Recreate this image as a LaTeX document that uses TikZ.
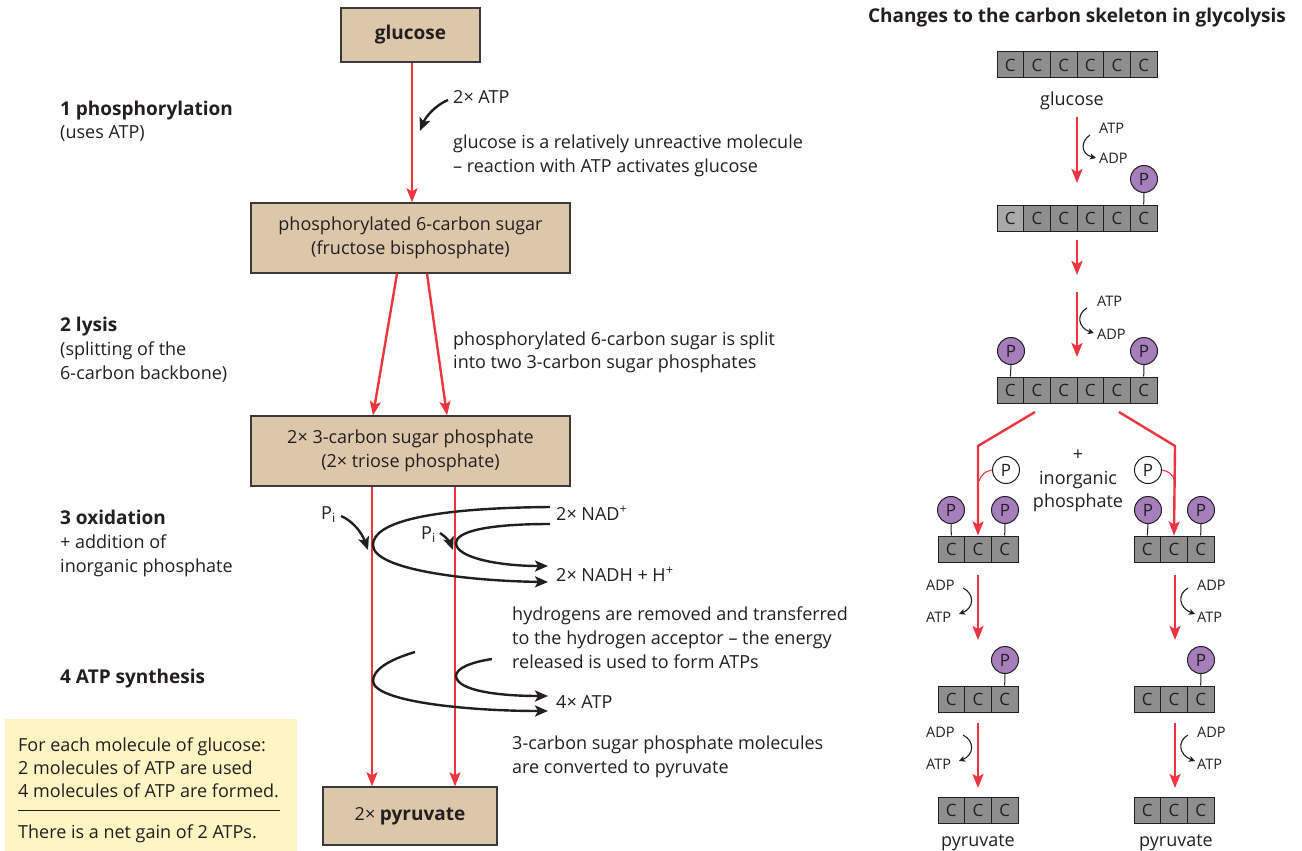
\documentclass[tikz,border=0pt]{standalone}
\usepackage{fontspec}
\setmainfont{Open Sans}
\usetikzlibrary{arrows.meta}

\definecolor{ink}{HTML}{231F20}
\definecolor{boxtan}{HTML}{DCC7AB}
\definecolor{boxedge}{HTML}{3A3A3A}
\definecolor{flowred}{HTML}{EC3540}
\definecolor{cgray}{HTML}{8E8E8E}
\definecolor{cgraylight}{HTML}{A9A9A9}
\definecolor{ppurple}{HTML}{A57EBB}
\definecolor{noteyellow}{HTML}{FFF5C4}

\newcommand\fsz[2]{\fontsize{#1}{#2}\selectfont}
\newcommand\bodyfont{\fsz{18}{24}}
\newcommand\headfont{\fsz{19}{24}\bfseries}

% a row of carbon atoms: name, left x, top y, number of atoms
\newcommand\carbonchain[4]{%
  \foreach \k in {1,...,#4}{%
    \node[cbox] (#1-\k) at ({#2+(\k-0.5)*26.67},{#3+13}) {C};
  }}

\begin{document}
\begin{tikzpicture}[x=1pt,y=-1pt,
  every node/.style={text=ink},
  stagebox/.style={draw=boxedge, fill=boxtan, line width=1.3pt, align=center,
    inner sep=0pt, font=\bodyfont},
  txt/.style={anchor=base west, inner sep=0pt, font=\bodyfont},
  txtb/.style={txt, font=\headfont},
  small/.style={anchor=base west, inner sep=0pt, font=\fsz{14.5}{16}},
  redarrow/.style={draw=flowred, line width=2.4pt,
    -{Stealth[length=14pt,width=11pt,inset=3pt]}},
  redline/.style={draw=flowred, line width=2.4pt},
  blackarrow/.style={draw=ink, line width=2.4pt,
    -{Stealth[length=13pt,width=11pt,inset=3pt]}},
  smallarrow/.style={draw=ink, line width=1.1pt,
    -{Stealth[length=6pt,width=6pt,inset=1.5pt]}},
  cbox/.style={draw=ink, fill=cgray, line width=1pt, minimum width=26.67pt,
    minimum height=26pt, inner sep=0pt, font=\fsz{17}{17}},
  pcirc/.style={circle, draw=ink, fill=ppurple, line width=1pt,
    minimum size=27pt, inner sep=0pt, font=\fsz{17}{17}},
  pfree/.style={pcirc, fill=white},
  stem/.style={draw=ink, line width=1pt},
]
\useasboundingbox (0,0) rectangle (1302,851);

% ---------------- left: the four stages ----------------
\node[stagebox, minimum width=139pt, minimum height=54pt, font=\headfont]
  (glc) at (410.5,35) {glucose};
\node[stagebox, minimum width=319pt, minimum height=70pt]
  (fbp) at (410.5,238) {phosphorylated 6-carbon sugar\\(fructose bisphosphate)};
\node[stagebox, minimum width=319pt, minimum height=70pt]
  (tp) at (410.5,451) {2× 3-carbon sugar phosphate\\(2× triose phosphate)};
\node[stagebox, minimum width=174pt, minimum height=58pt]
  (pyr) at (410,816) {2× {\headfont pyruvate}};

\draw[redarrow] ([xshift=1.5pt]glc.south) -- ([xshift=1.5pt]fbp.north);
\draw[redarrow] ([xshift=-13.5pt]fbp.south) -- ([xshift=-37.5pt]tp.north);
\draw[redarrow] ([xshift=16.5pt]fbp.south) -- ([xshift=36.5pt]tp.north);
\draw[redarrow] ([xshift=-38.5pt]tp.south) -- ([xshift=-38pt]pyr.north);
\draw[redarrow] ([xshift=44.5pt]tp.south) -- ([xshift=45pt]pyr.north);

% stage names
\node[txtb] (s1) at (60,115) {1 phosphorylation};
\node[txt]  (s1a) at (60,139) {(uses ATP)};
\node[txtb] (s2) at (60,331) {2 lysis};
\node[txt]  (s2a) at (60,355) {(splitting of the};
\node[txt]  (s2b) at (60,379) {6-carbon backbone)};
\node[txtb] (s3) at (60,524) {3 oxidation};
\node[txt]  (s3a) at (60,548) {+ addition of};
\node[txt]  (s3b) at (60,572) {inorganic phosphate};
\node[txtb] (s4) at (60,683) {4 ATP synthesis};

% notes beside the flow
\node[txt] (atpin) at (453,103) {2× ATP};
\coordinate (atpinA) at (448,100);
\coordinate (atpinB) at (420,131);
\draw[blackarrow] (atpinA) .. controls (436,105) and (426,116) .. (atpinB);
\node[txt] (n1a) at (453,148) {glucose is a relatively unreactive molecule};
\node[txt] (n1b) at (453,172) {– reaction with ATP activates glucose};
\node[txt] (n2a) at (453,345) {phosphorylated 6-carbon sugar is split};
\node[txt] (n2b) at (453,368) {into two 3-carbon sugar phosphates};

% oxidation: NAD+ reduced, phosphate added
\node[txt] (nad) at (556,520) {2× NAD\textsuperscript{+}};
\node[txt] (nadh) at (556,581) {2× NADH + H\textsuperscript{+}};
\coordinate (nadA) at (550,507);
\coordinate (nadB) at (550,524);
\coordinate (nadhA) at (548,582);
\coordinate (nadhB) at (548,566);
\draw[blackarrow] (nadA) .. controls (430,508) and (373,522) .. (373,545)
  .. controls (373,570) and (470,581) .. (nadhA);
\draw[blackarrow] (nadB) .. controls (485,524) and (456,532) .. (456,543)
  .. controls (456,558) and (500,566) .. (nadhB);
\node[txt] (pi1) at (321,519) {P\textsubscript{i}};
\node[txt] (pi2) at (421,539) {P\textsubscript{i}};
\draw[blackarrow] (341,516) .. controls (353,521) and (362,533) .. (368,550);
\draw[blackarrow] (440,533) .. controls (446,537) and (450,542) .. (453,550);

\node[txt] (n3a) at (512,620) {hydrogens are removed and transferred};
\node[txt] (n3b) at (512,644) {to the hydrogen acceptor – the energy};
\node[txt] (n3c) at (512,668) {released is used to form ATPs};

% ATP synthesis
\node[txt] (atpout) at (556,708) {4× ATP};
\coordinate (atpA) at (415,652);
\coordinate (atpB) at (492,659);
\coordinate (atpoutA) at (548,711);
\coordinate (atpoutB) at (548,696);
\draw[blackarrow] (atpA) .. controls (388,660) and (373,670) .. (373,681)
  .. controls (374,702) and (470,711) .. (atpoutA);
\draw[blackarrow] (atpB) .. controls (472,662) and (456,668) .. (456,676)
  .. controls (457,691) and (500,696) .. (atpoutB);

\node[txt] (n4a) at (512,749) {3-carbon sugar phosphate molecules};
\node[txt] (n4b) at (512,773) {are converted to pyruvate};

% summary panel
\fill[noteyellow] (5,719) rectangle (297,860);
\node[txt] (y1) at (18,751) {For each molecule of glucose:};
\node[txt] (y2) at (18,774) {2 molecules of ATP are used};
\node[txt] (y3) at (18,797) {4 molecules of ATP are formed.};
\draw[ink, line width=1pt] (18,810) -- (280,810);
\node[txt] (y4) at (18,838) {There is a net gain of 2 ATPs.};

% ---------------- right: the carbon skeleton ----------------
\node[anchor=base, inner sep=0pt, font=\headfont] (ttl) at (1077,23)
  {Changes to the carbon skeleton in glycolysis};

\carbonchain{c1}{997}{52}{6}
\node[anchor=base, inner sep=0pt, font=\bodyfont] (glulab) at (1072,106) {glucose};
\draw[redarrow] (1077,117) -- (1077,183);
\node[small] (atp1) at (1099,133) {ATP};
\node[small] (adp1) at (1099,163) {ADP};
\draw[smallarrow] (1090,135) .. controls (1080,142) and (1081,154) .. (1096,158);

\carbonchain{c2}{997}{205}{6}
\node[cbox, fill=cgraylight] at (c2-1) {C};
\node[pcirc] (p2) at (1144,179) {P};
\draw[stem] (p2.south) -- (c2-6.north);

\draw[redarrow] (1077,240) -- (1077,275);
\draw[redarrow] (1077,292) -- (1077,357);
\node[small] (atp2) at (1097,306) {ATP};
\node[small] (adp2) at (1097,339) {ADP};
\draw[smallarrow] (1087,308) .. controls (1076,314) and (1078,328) .. (1094,333);

\carbonchain{c3}{997}{377}{6}
\node[pcirc] (p3a) at (1011,351) {P};
\node[pcirc] (p3b) at (1144,351) {P};
\draw[stem] (p3a.south) -- (c3-1.north);
\draw[stem] (p3b.south) -- (c3-6.north);

% splitting into two three-carbon units
\carbonchain{l1}{938}{536}{3}
\carbonchain{r1}{1134}{536}{3}
\draw[redline, -{Stealth[length=14pt,width=11pt,inset=3pt]}]
  (1035,412) -- (978,446) -- (l1-2.north);
\draw[redline, -{Stealth[length=14pt,width=11pt,inset=3pt]}]
  (1119,412) -- (1175,446) -- (r1-2.north);
\node[pfree] (pil) at (1006,470) {P};
\node[pfree] (pir) at (1148,470) {P};
\draw[flowred, line width=1.1pt] (pil.west) .. controls (985,471) and (981,475) .. (979,481);
\draw[flowred, line width=1.1pt] (pir.east) .. controls (1169,471) and (1173,475) .. (1175,481);
\node[anchor=center, inner sep=0pt, font=\bodyfont] (plus) at (1078,455) {+};
\node[anchor=base, inner sep=0pt, font=\bodyfont] (inorg) at (1078,484) {inorganic};
\node[anchor=base, inner sep=0pt, font=\bodyfont] (phos) at (1078,507) {phosphate};

\node[pcirc] (pl1a) at (951,510) {P};
\node[pcirc] (pl1b) at (1005,510) {P};
\node[pcirc] (pr1a) at (1148,510) {P};
\node[pcirc] (pr1b) at (1201,510) {P};
\draw[stem] (pl1a.south) -- (l1-1.north);
\draw[stem] (pl1b.south) -- (l1-3.north);
\draw[stem] (pr1a.south) -- (r1-1.north);
\draw[stem] (pr1b.south) -- (r1-3.north);

% first ATP-forming step
\carbonchain{l2}{938}{686}{3}
\carbonchain{r2}{1134}{686}{3}
\draw[redarrow] (978,575) -- (978,640);
\draw[redarrow] (1175,575) -- (1175,640);
\node[small] (adpl2) at (926,590) {ADP};
\node[small] (atpl2) at (926,622) {ATP};
\draw[smallarrow] (963,588) .. controls (975,594) and (974,608) .. (959,614);
\node[small] (adpr2) at (1197,590) {ADP};
\node[small] (atpr2) at (1197,622) {ATP};
\draw[smallarrow] (1188,588) .. controls (1177,594) and (1179,608) .. (1195,614);
\node[pcirc] (pl2) at (1005,660) {P};
\node[pcirc] (pr2) at (1201,660) {P};
\draw[stem] (pl2.south) -- (l2-3.north);
\draw[stem] (pr2.south) -- (r2-3.north);

% second ATP-forming step
\carbonchain{l3}{938}{797}{3}
\carbonchain{r3}{1134}{797}{3}
\draw[redarrow] (978,723) -- (978,788);
\draw[redarrow] (1175,723) -- (1175,788);
\node[small] (adpl3) at (926,737) {ADP};
\node[small] (atpl3) at (926,769) {ATP};
\draw[smallarrow] (963,735) .. controls (975,741) and (974,755) .. (959,761);
\node[small] (adpr3) at (1197,737) {ADP};
\node[small] (atpr3) at (1197,769) {ATP};
\draw[smallarrow] (1188,735) .. controls (1177,741) and (1179,755) .. (1195,761);

\node[anchor=base, inner sep=0pt, font=\bodyfont] (pyl) at (978,846) {pyruvate};
\node[anchor=base, inner sep=0pt, font=\bodyfont] (pyr2) at (1176,846) {pyruvate};
\end{tikzpicture}
\end{document}
